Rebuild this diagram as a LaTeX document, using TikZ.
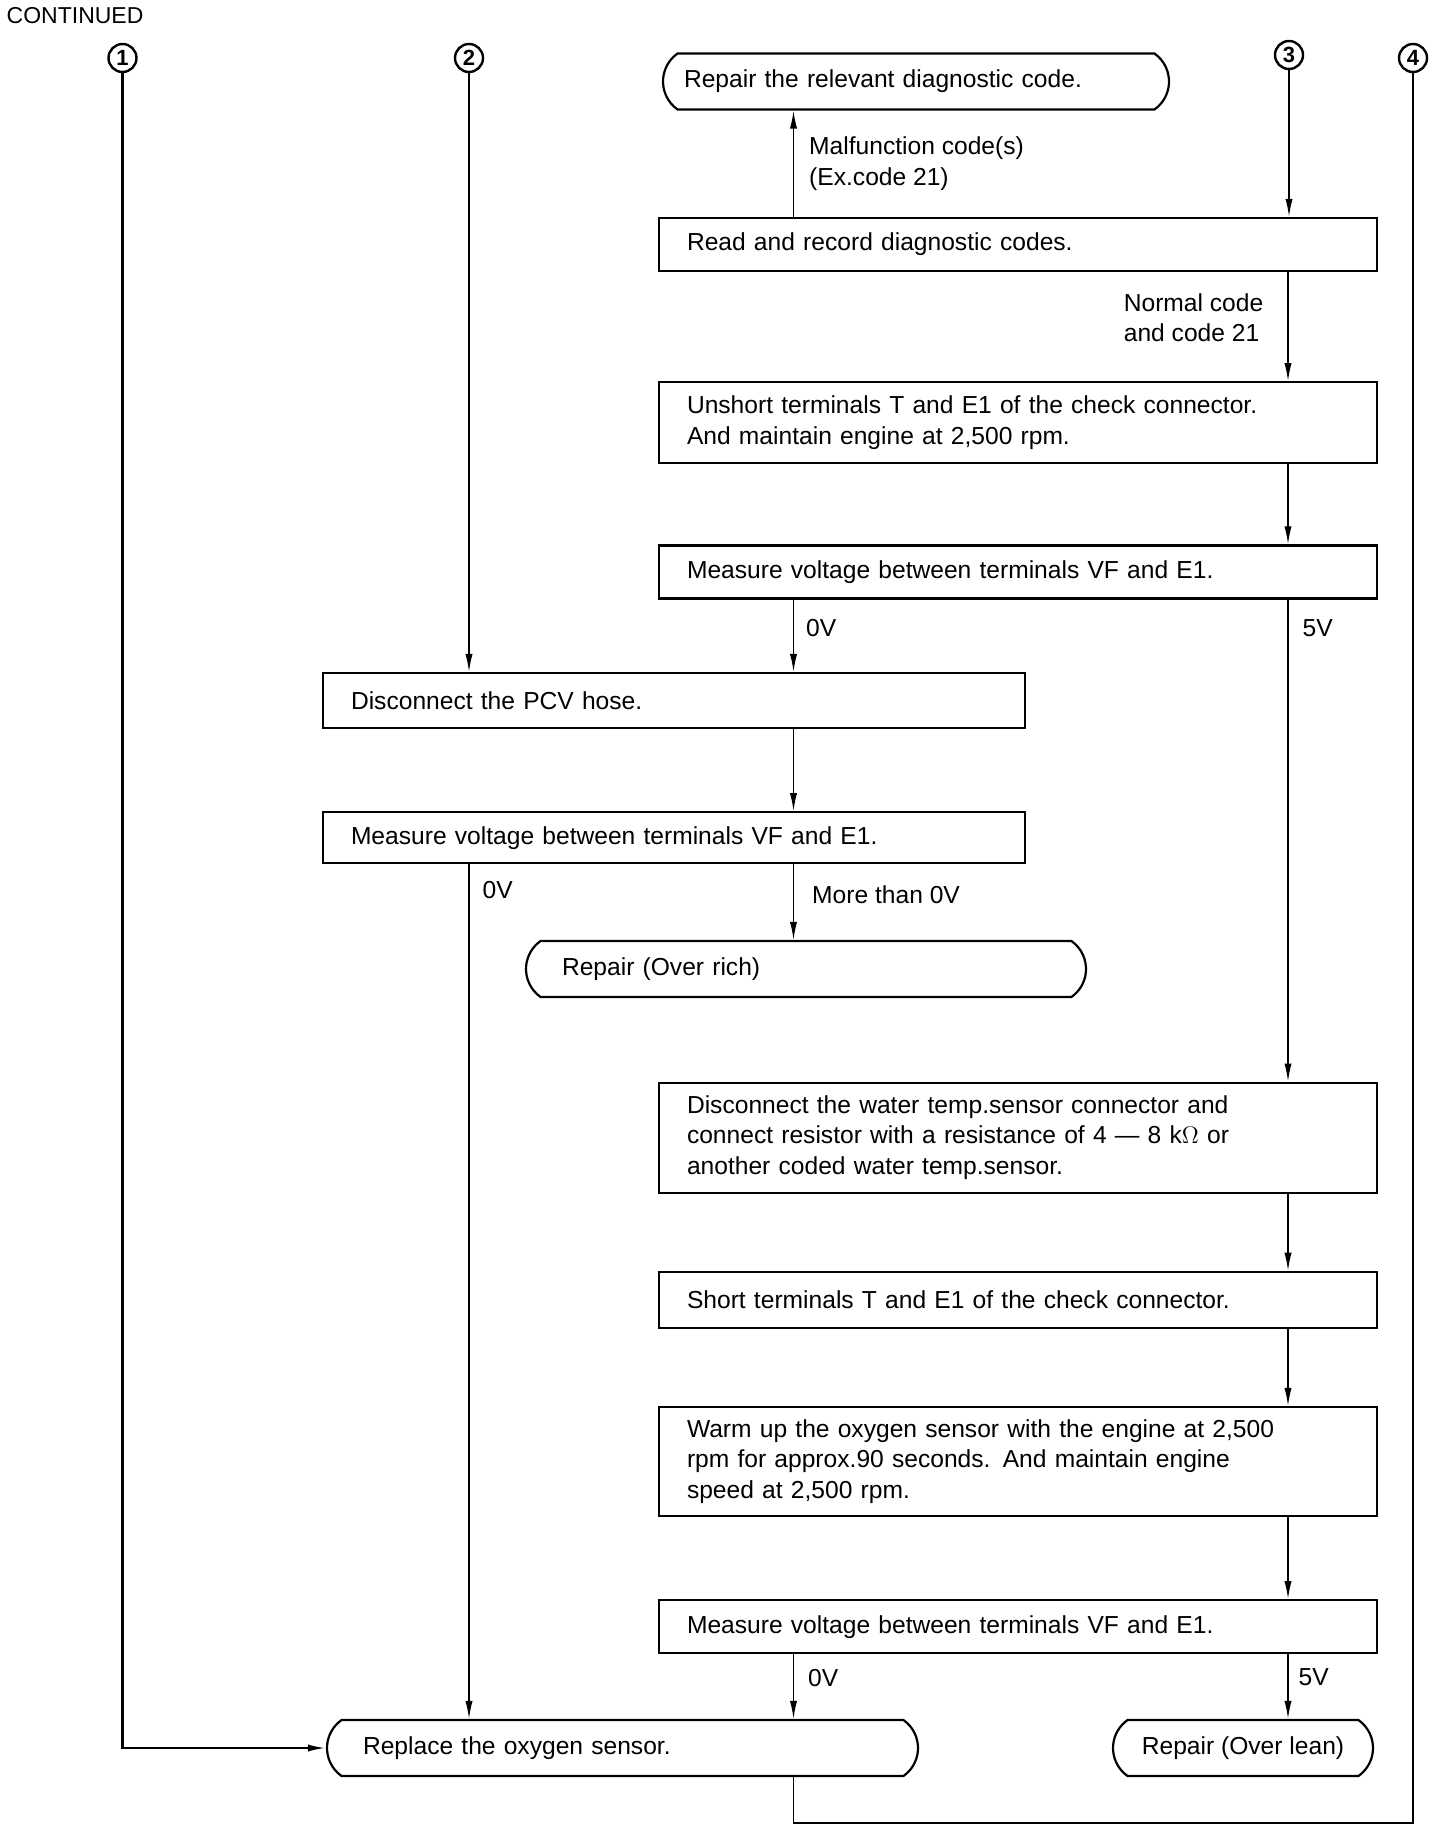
\documentclass[tikz,border=0pt]{standalone}
\usepackage{fontspec}
\setmainfont{Liberation Sans}
\usetikzlibrary{arrows.meta,positioning,shapes.misc}

\begin{document}
\begin{tikzpicture}[
 x=1pt, y=-1pt, >={Latex[length=9pt,width=3.6pt]}, line width=0.7pt,
 font=\fontsize{12.3}{15.2}\selectfont,
 box/.style={draw, line width=1.1pt, align=left, inner xsep=14pt, inner ysep=0pt, text width=331pt},
 wide/.style={box, text width=323pt},
 term/.style={draw, line width=1.1pt, rounded rectangle, rounded rectangle arc length=110, inner xsep=2pt, inner ysep=0pt, minimum height=28pt, align=left},
 tag/.style={draw, circle, line width=1.2pt, inner sep=0pt, minimum size=14pt, font=\fontsize{11}{11}\selectfont\bfseries},
 lbl/.style={inner sep=0pt, align=left}]
\useasboundingbox (0,0) rectangle (720,915);
\node[lbl, anchor=west, font=\fontsize{11.5}{12}\selectfont] (cont) at (3,8) {CONTINUED};
\node[tag] (c1) at (61.25,29) {1};
\node[tag] (c2) at (234.5,29) {2};
\node[tag] (c3) at (644.5,27.5) {3};
\node[tag] (c4) at (706.5,29) {4};
\coordinate (xm) at (396.75,0);
\coordinate (xr) at (644,0);
\coordinate (bot) at (396.75,911.5);
% right column
\node[box, minimum height=26.5pt] (read) at (509,122.25) {Read and record diagnostic codes.};
\node[term, minimum width=257pt, text width=232pt] (diag) at (458,40.75) {Repair the relevant diagnostic code.};
\node[box, minimum height=40.5pt, below=54.5pt of read] (unshort) {Unshort terminals T and E1 of the check connector.\\ And maintain engine at 2,500 rpm.};
\node[box, minimum height=26.5pt, below=40pt of unshort] (m1) {Measure voltage between terminals VF and E1.};
\node[box, minimum height=55pt, below=241pt of m1] (water) {Disconnect the water temp.sensor connector and\\ connect resistor with a resistance of 4 --- 8 k$\Omega$ or\\ another coded water temp.sensor.};
\node[box, minimum height=28pt, below=38.5pt of water] (short) {Short terminals T and E1 of the check connector.};
\node[box, minimum height=54.5pt, below=38.5pt of short] (warm) {Warm up the oxygen sensor with the engine at 2,500\\ rpm for approx.90 seconds. And maintain engine\\ speed at 2,500 rpm.};
\node[box, minimum height=26.5pt, below=41pt of warm] (m3) {Measure voltage between terminals VF and E1.};
\node[term, align=center, minimum width=134pt] (lean) at (621.5,874) {Repair (Over lean)};
% left column
\node[wide, minimum height=27.5pt] (pcv) at (337,350.25) {Disconnect the PCV hose.};
\node[wide, minimum height=25.5pt, below=41pt of pcv] (m2) {Measure voltage between terminals VF and E1.};
\node[term, minimum width=284pt, text width=244pt] (rich) at (403,484.5) {Repair (Over rich)};
\node[term, minimum width=299.5pt, text width=259.5pt] (replace) at (311.25,874) {Replace the oxygen sensor.};
% connectors
\draw[->] (c3) -- (c3 |- read.north);
\draw[->] (read.north -| xm) -- (diag.south -| xm) node[lbl, midway, right=7.5pt] {Malfunction code(s)\\(Ex.code 21)};
\draw[->] (read.south -| xr) -- (unshort.north -| xr) node[lbl, pos=0.42, left=12pt] {Normal code\\and code 21};
\draw[->] (unshort.south -| xr) -- (m1.north -| xr);
\draw[->] (m1.south -| xm) -- (pcv.north -| xm) node[lbl, pos=0.4, right=6pt] {0V};
\draw[->] (m1.south -| xr) -- (water.north -| xr) node[lbl, pos=0.06, right=7pt] {5V};
\draw[->] (c2) -- (c2 |- pcv.north);
\draw[->] (pcv.south -| xm) -- (m2.north -| xm);
\draw[->] (m2.south -| c2) -- (c2 |- replace.north) node[lbl, pos=0.03, right=6.5pt] {0V};
\draw[->] (m2.south -| xm) -- (rich.north -| xm) node[lbl, pos=0.4, right=9pt] {More than 0V};
\foreach \a/\b in {water/short, short/warm, warm/m3}
  \draw[->] (\a.south -| xr) -- (\b.north -| xr);
\draw[->] (m3.south -| xm) -- (replace.north -| xm) node[lbl, pos=0.36, right=7pt] {0V};
\draw[->] (m3.south -| xr) -- (lean.north -| xr) node[lbl, pos=0.36, right=5pt] {5V};
\draw[->, line width=1.1pt] (c1) |- (replace.west);
\draw (c4) |- (bot) -- (bot |- replace.south);
\end{tikzpicture}
\end{document}
